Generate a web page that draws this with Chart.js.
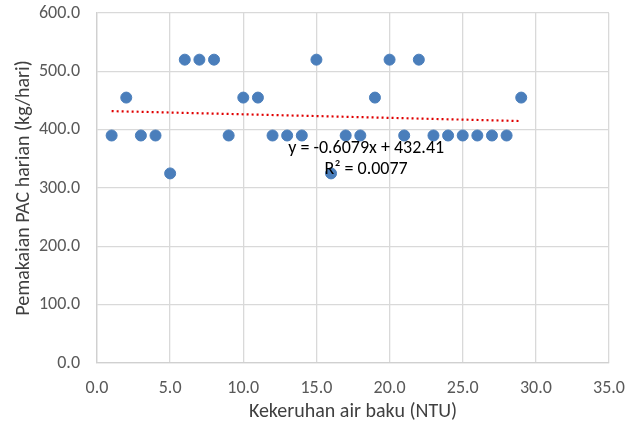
<!DOCTYPE html>
<html>
<head>
<meta charset="utf-8">
<script src="https://cdn.jsdelivr.net/npm/chart.js@4.4.0/dist/chart.umd.min.js"></script>
<style>
html,body{margin:0;padding:0;background:#fff;}
#wrap{width:639px;height:427px;}
</style>
</head>
<body>
<div id="wrap"><canvas id="c" width="639" height="427"></canvas></div>
<script>
const turbidity = [1,2,3,4,5,6,7,8,9,10,11,12,13,14,15,16,17,18,19,20,21,22,23,24,25,26,27,28,29];
const pacUsage  = [390,455,390,390,325,520,520,520,390,455,455,390,390,390,520,325,390,390,455,520,390,520,390,390,390,390,390,390,455];
const trendX = [1, 29];
const trendY = [431.80, 414.78];
const equationLines = ['y = -0.6079x + 432.41', 'R\u00B2 = 0.0077'];
const xTitle = 'Kekeruhan air baku (NTU)';
const yTitle = 'Pemakaian PAC harian (kg/hari)';

const FONT = "Carlito, Lato, 'Open Sans', sans-serif";

const eqPlugin = {
  id: 'eq',
  afterDatasetsDraw(chart) {
    const {ctx, scales} = chart;
    const cx = scales.x.getPixelForValue(18.4);
    ctx.save();
    ctx.fillStyle = '#000';
    ctx.font = "18px " + FONT;
    ctx.textAlign = 'center';
    ctx.textBaseline = 'middle';
    ctx.fillText(equationLines[0], cx, scales.y.getPixelForValue(368));
    ctx.fillText(equationLines[1], cx, scales.y.getPixelForValue(331));
    ctx.restore();
  }
};

new Chart(document.getElementById('c'), {
  type: 'scatter',
  data: {
    datasets: [
      {
        label: 'data',
        data: turbidity.map((x, i) => ({x: x, y: pacUsage[i]})),
        backgroundColor: '#4A7EBB',
        borderColor: '#4A7EBB',
        pointRadius: 5.5,
        pointHoverRadius: 5.5,
        order: 2
      },
      {
        label: 'trend',
        type: 'line',
        data: trendX.map((x, i) => ({x: x, y: trendY[i]})),
        borderColor: '#E00000',
        borderWidth: 2.2,
        borderDash: [2, 3],
        pointRadius: 0,
        fill: false,
        order: 1
      }
    ]
  },
  options: {
    responsive: false,
    animation: false,
    devicePixelRatio: 1,
    layout: {padding: {left: 0, top: 13, right: 30, bottom: 0}},
    plugins: {legend: {display: false}, tooltip: {enabled: false}},
    scales: {
      x: {
        type: 'linear',
        min: 0, max: 35,
        afterFit(s) { s.height = 64; s.paddingLeft = 0; s.paddingRight = 0; },
        ticks: {stepSize: 5, padding: 15, color: '#595959', font: {family: FONT, size: 18},
                callback: v => v.toFixed(1), maxRotation: 0},
        grid: {color: '#D9D9D9', lineWidth: 1.3, drawTicks: false},
        border: {color: '#D0D0D0', width: 1.3},
        title: {display: true, text: xTitle, color: '#404040', font: {family: FONT, size: 20}, padding: {top: 4, bottom: 3}}
      },
      y: {
        min: 0, max: 600,
        afterFit(s) { s.width = 97; s.paddingTop = 0; s.paddingBottom = 0; },
        ticks: {stepSize: 100, padding: 17, color: '#595959', font: {family: FONT, size: 18},
                callback: v => v.toFixed(1)},
        grid: {color: '#D9D9D9', lineWidth: 1.3, drawTicks: false},
        border: {color: '#D0D0D0', width: 1.3},
        title: {display: true, text: yTitle, color: '#404040', font: {family: FONT, size: 20}, padding: {top: 12, bottom: 0}}
      }
    }
  },
  plugins: [eqPlugin]
});
</script>
</body>
</html>
